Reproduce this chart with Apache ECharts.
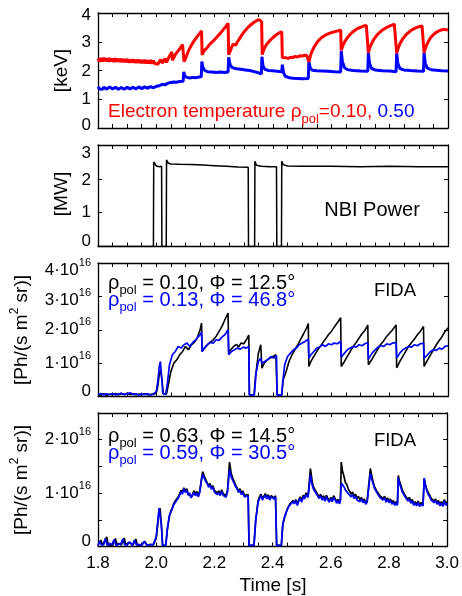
<!DOCTYPE html>
<html><head><meta charset="utf-8">
<script src="https://cdn.jsdelivr.net/npm/echarts@6/dist/echarts.min.js"></script>
<style>html,body{margin:0;padding:0;background:#fff}#c{width:462px;height:596px}</style>
</head><body><div id="c"></div>
<script>
// ---------- DATA (time [s], value) ----------
// Electron temperature [keV], rho_pol = 0.10 (red)
const teRed = [[1.800,2.42],[1.805,2.31],[1.810,2.43],[1.815,2.32],[1.820,2.44],[1.825,2.33],[1.830,2.42],[1.835,2.31],[1.840,2.43],[1.845,2.32],[1.850,2.41],[1.855,2.30],[1.860,2.42],[1.865,2.31],[1.870,2.40],[1.875,2.30],[1.880,2.41],[1.885,2.29],[1.890,2.39],[1.895,2.29],[1.900,2.40],[1.905,2.28],[1.910,2.38],[1.915,2.28],[1.920,2.39],[1.925,2.27],[1.930,2.37],[1.935,2.27],[1.940,2.38],[1.945,2.26],[1.950,2.36],[1.955,2.26],[1.960,2.37],[1.965,2.25],[1.970,2.35],[1.975,2.25],[1.980,2.36],[1.985,2.24],[1.990,2.34],[1.995,2.24],[2.000,2.30],
[2.005,2.22],[2.010,2.30],[2.015,2.38],[2.020,2.26],[2.025,2.33],[2.030,2.42],[2.035,2.28],[2.040,2.40],[2.045,2.50],[2.050,2.58],[2.053,2.65],[2.055,2.36],[2.060,2.45],[2.065,2.55],[2.070,2.62],[2.075,2.68],[2.080,2.75],[2.085,2.83],[2.090,2.90],[2.093,2.95],[2.095,2.31],[2.100,2.42],[2.105,2.55],[2.110,2.68],[2.115,2.78],[2.120,2.88],[2.125,2.96],[2.130,3.04],[2.135,3.10],[2.140,3.18],[2.145,3.24],[2.150,3.31],[2.155,3.38],[2.157,2.54],[2.160,2.62],[2.165,2.70],[2.170,2.76],[2.175,2.80],[2.180,2.88],[2.185,2.94],[2.190,2.98],[2.195,3.03],[2.200,3.08],[2.205,3.14],[2.210,3.19],[2.215,3.25],[2.220,3.30],[2.225,3.36],[2.230,3.43],[2.235,3.49],[2.240,3.55],[2.246,3.64],[2.248,2.55],[2.252,2.65],[2.258,2.80],[2.263,2.92],[2.268,2.96],[2.272,2.88],[2.278,3.00],[2.285,3.10],[2.292,3.22],[2.300,3.33],[2.308,3.43],[2.316,3.52],[2.325,3.60],[2.335,3.68],[2.345,3.74],[2.352,3.77],[2.358,3.74],[2.361,3.70],[2.363,2.55],[2.368,2.72],[2.375,2.86],[2.382,2.96],[2.390,3.05],[2.398,3.13],[2.406,3.20],[2.414,3.26],[2.422,3.31],[2.430,3.35],[2.432,2.45],[2.438,2.40],[2.445,2.44],[2.452,2.42],[2.460,2.46],[2.468,2.45],[2.476,2.49],[2.484,2.47],[2.492,2.51],[2.500,2.50],[2.508,2.53],[2.516,2.52],[2.521,2.55],[2.523,2.30],[2.528,2.50],[2.533,2.65],[2.540,2.80],[2.548,2.93],[2.556,3.04],[2.565,3.13],[2.575,3.20],[2.585,3.26],[2.595,3.30],[2.605,3.33],[2.615,3.36],[2.625,3.38],[2.632,3.41],[2.634,2.70],[2.640,2.88],[2.647,3.02],[2.655,3.14],[2.663,3.24],[2.672,3.33],[2.682,3.41],[2.692,3.47],[2.702,3.51],[2.712,3.55],[2.720,3.57],[2.725,3.58],[2.727,2.62],[2.733,2.82],[2.740,2.98],[2.748,3.12],[2.757,3.24],[2.767,3.34],[2.777,3.42],[2.788,3.49],[2.798,3.54],[2.808,3.58],[2.816,3.61],[2.822,3.62],[2.824,2.60],[2.830,2.80],[2.837,2.97],[2.845,3.10],[2.854,3.22],[2.863,3.31],[2.873,3.39],[2.883,3.45],[2.893,3.50],[2.903,3.53],[2.911,3.55],[2.916,3.56],[2.918,2.62],[2.924,2.82],[2.931,2.98],[2.939,3.12],[2.948,3.23],[2.957,3.31],[2.967,3.37],[2.977,3.41],[2.987,3.43],[2.995,3.42],[3.000,3.41]];
// Electron temperature [keV], rho_pol = 0.50 (blue)
const teBlue = [[1.800,1.43],[1.805,1.36],[1.810,1.42],[1.815,1.35],[1.820,1.42],[1.830,1.35],[1.840,1.43],[1.850,1.36],[1.860,1.42],[1.870,1.35],[1.880,1.41],[1.890,1.35],[1.900,1.42],[1.910,1.36],[1.920,1.42],[1.930,1.36],[1.940,1.43],[1.950,1.37],[1.960,1.43],[1.970,1.38],[1.980,1.44],[1.990,1.40],[2.000,1.45],[2.010,1.47],[2.020,1.52],[2.030,1.50],[2.040,1.56],[2.050,1.58],[2.060,1.60],[2.070,1.59],[2.080,1.62],[2.092,1.63],[2.094,1.95],[2.098,1.80],[2.105,1.76],[2.115,1.74],[2.125,1.76],[2.135,1.75],[2.145,1.77],[2.154,1.78],[2.156,2.31],[2.160,2.10],[2.166,2.00],[2.175,1.96],[2.190,1.95],[2.205,1.93],[2.220,1.95],[2.235,1.93],[2.246,1.95],[2.248,2.46],[2.253,2.20],[2.260,2.10],[2.275,2.06],[2.290,2.04],[2.305,2.02],[2.320,2.00],[2.335,1.96],[2.350,1.92],[2.360,1.88],[2.362,2.48],[2.366,2.15],[2.372,2.04],[2.385,2.00],[2.400,1.99],[2.415,1.97],[2.430,1.96],[2.432,2.20],[2.436,1.92],[2.442,1.80],[2.455,1.75],[2.470,1.73],[2.485,1.72],[2.500,1.71],[2.521,1.72],[2.523,2.30],[2.528,2.08],[2.535,2.01],[2.550,1.99],[2.570,1.98],[2.590,1.97],[2.610,1.96],[2.632,1.95],[2.634,2.68],[2.638,2.30],[2.645,2.10],[2.655,2.03],[2.675,2.00],[2.700,1.98],[2.725,1.97],[2.727,2.62],[2.731,2.25],[2.738,2.07],[2.750,2.02],[2.775,1.99],[2.800,1.98],[2.822,1.96],[2.824,2.60],[2.828,2.25],[2.835,2.07],[2.848,2.02],[2.870,2.00],[2.895,1.98],[2.916,1.97],[2.918,2.62],[2.922,2.25],[2.929,2.08],[2.942,2.03],[2.960,2.01],[2.980,1.99],[3.000,1.98]];
// NBI power [MW]
const nbi = [[1.800,0],[1.990,0],[1.991,2.50],[1.995,2.45],[2.000,2.38],[2.010,2.36],[2.018,2.37],[2.019,0],[2.034,0],[2.035,2.56],[2.040,2.47],[2.050,2.44],[2.080,2.43],[2.120,2.42],[2.160,2.41],[2.200,2.39],[2.240,2.37],[2.280,2.35],[2.315,2.34],[2.316,0],[2.337,0],[2.338,2.52],[2.343,2.40],[2.360,2.37],[2.390,2.36],[2.412,2.36],[2.413,0],[2.429,0],[2.430,2.52],[2.435,2.42],[2.450,2.38],[2.500,2.37],[2.600,2.37],[2.700,2.36],[2.800,2.37],[2.900,2.36],[3.000,2.36]];
// FIDA core [1e16 Ph/(s m^2 sr)] : rho 0.10 (black), rho 0.13 (blue)
const fidaCoreBlack = [[1.800,0.07],[1.810,0.04],[1.820,0.08],[1.830,0.04],[1.840,0.07],[1.850,0.05],[1.860,0.09],[1.870,0.05],[1.880,0.08],[1.890,0.06],[1.900,0.10],[1.910,0.06],[1.920,0.08],[1.930,0.05],[1.940,0.07],[1.950,0.06],[1.960,0.08],[1.970,0.05],[1.980,0.06],[1.990,0.07],[2.000,0.10],[2.005,0.30],[2.010,0.65],[2.015,0.80],[2.020,0.45],[2.024,0.08],[2.030,0.05],[2.035,0.08],[2.040,0.30],[2.050,0.75],[2.060,1.00],[2.070,1.10],[2.080,1.25],[2.090,1.35],[2.100,1.50],[2.110,1.40],[2.120,1.55],[2.130,1.62],[2.140,1.75],[2.150,2.00],[2.155,2.20],[2.157,1.35],[2.165,1.45],[2.175,1.55],[2.185,1.63],[2.195,1.70],[2.205,1.80],[2.215,1.95],[2.225,2.10],[2.235,2.30],[2.246,2.50],[2.248,1.30],[2.255,1.40],[2.265,1.50],[2.275,1.56],[2.282,1.48],[2.290,1.60],[2.300,1.58],[2.310,1.72],[2.317,1.84],[2.319,0.05],[2.335,0.05],[2.340,0.60],[2.350,1.30],[2.358,1.55],[2.362,0.85],[2.370,1.00],[2.380,1.10],[2.390,1.15],[2.400,1.20],[2.410,1.25],[2.414,0.05],[2.430,0.05],[2.435,0.50],[2.445,0.75],[2.455,1.05],[2.465,1.25],[2.475,1.40],[2.485,1.55],[2.495,1.72],[2.505,1.88],[2.515,2.05],[2.521,2.19],[2.523,0.90],[2.530,1.05],[2.540,1.20],[2.550,1.35],[2.560,1.48],[2.570,1.60],[2.580,1.72],[2.590,1.85],[2.600,1.95],[2.610,2.08],[2.620,2.20],[2.632,2.36],[2.634,0.90],[2.645,1.05],[2.655,1.20],[2.665,1.35],[2.675,1.50],[2.685,1.62],[2.695,1.75],[2.705,1.88],[2.715,1.98],[2.725,2.14],[2.727,0.95],[2.738,1.10],[2.748,1.25],[2.758,1.40],[2.768,1.55],[2.778,1.65],[2.788,1.78],[2.798,1.88],[2.808,1.98],[2.822,2.14],[2.824,0.86],[2.835,1.05],[2.845,1.20],[2.855,1.35],[2.865,1.50],[2.875,1.62],[2.885,1.72],[2.895,1.85],[2.905,1.95],[2.916,2.10],[2.918,0.90],[2.930,1.10],[2.940,1.25],[2.950,1.40],[2.960,1.55],[2.970,1.68],[2.980,1.80],[2.990,1.95],[3.000,2.06]];
const fidaCoreBlue = [[1.800,0.06],[1.810,0.09],[1.820,0.05],[1.830,0.08],[1.840,0.06],[1.850,0.09],[1.860,0.05],[1.870,0.07],[1.880,0.10],[1.890,0.06],[1.900,0.08],[1.910,0.11],[1.920,0.06],[1.930,0.08],[1.940,0.05],[1.950,0.07],[1.960,0.06],[1.970,0.08],[1.980,0.05],[1.990,0.07],[2.000,0.15],[2.005,0.45],[2.010,0.90],[2.014,1.05],[2.018,0.60],[2.022,0.10],[2.032,0.06],[2.038,0.40],[2.045,0.95],[2.055,1.25],[2.065,1.35],[2.075,1.50],[2.085,1.45],[2.095,1.55],[2.105,1.60],[2.115,1.50],[2.125,1.62],[2.135,1.70],[2.145,1.80],[2.155,1.92],[2.157,1.35],[2.165,1.45],[2.175,1.55],[2.185,1.62],[2.195,1.60],[2.205,1.70],[2.215,1.68],[2.225,1.78],[2.235,1.85],[2.246,2.00],[2.248,1.25],[2.258,1.35],[2.268,1.40],[2.278,1.45],[2.288,1.42],[2.298,1.48],[2.308,1.45],[2.317,1.50],[2.319,0.05],[2.336,0.05],[2.342,0.70],[2.350,1.05],[2.358,1.15],[2.362,1.00],[2.372,1.05],[2.382,1.10],[2.392,1.20],[2.402,1.15],[2.412,1.22],[2.414,0.05],[2.430,0.05],[2.433,0.40],[2.440,0.95],[2.450,1.20],[2.460,1.30],[2.470,1.40],[2.480,1.45],[2.490,1.55],[2.500,1.60],[2.510,1.65],[2.521,1.72],[2.523,1.15],[2.530,1.25],[2.540,1.35],[2.550,1.45],[2.560,1.48],[2.570,1.55],[2.580,1.50],[2.590,1.58],[2.600,1.55],[2.610,1.60],[2.620,1.58],[2.632,1.65],[2.634,1.18],[2.645,1.30],[2.655,1.40],[2.665,1.45],[2.675,1.50],[2.685,1.48],[2.695,1.55],[2.705,1.52],[2.715,1.58],[2.725,1.62],[2.727,1.12],[2.740,1.30],[2.750,1.40],[2.760,1.48],[2.770,1.52],[2.780,1.50],[2.790,1.58],[2.800,1.55],[2.810,1.60],[2.822,1.62],[2.824,1.15],[2.835,1.30],[2.845,1.40],[2.855,1.45],[2.865,1.50],[2.875,1.48],[2.885,1.55],[2.895,1.52],[2.905,1.58],[2.916,1.60],[2.918,1.15],[2.930,1.25],[2.940,1.35],[2.950,1.40],[2.960,1.38],[2.970,1.45],[2.980,1.42],[2.990,1.50],[3.000,1.52]];
// FIDA edge [1e16 Ph/(s m^2 sr)] : rho 0.63 (black), rho 0.59 (blue)
const fidaEdgeBlack = [[1.800,0.03],[1.810,0.12],[1.815,0.02],[1.820,0.05],[1.830,0.18],[1.835,0.03],[1.840,0.04],[1.850,0.02],[1.860,0.15],[1.865,0.02],[1.870,0.06],[1.880,0.03],[1.890,0.16],[1.895,0.04],[1.900,0.02],[1.910,0.07],[1.920,0.03],[1.930,0.14],[1.935,0.02],[1.940,0.05],[1.950,0.03],[1.960,0.10],[1.970,0.02],[1.980,0.04],[1.990,0.03],[2.000,0.15],[2.005,0.40],[2.010,0.68],[2.013,0.72],[2.018,0.40],[2.022,0.02],[2.033,0.02],[2.038,0.30],[2.045,0.55],[2.050,0.66],[2.055,0.72],[2.060,0.80],[2.065,0.85],[2.070,0.82],[2.075,0.92],[2.080,0.98],[2.085,1.05],[2.090,1.01],[2.095,1.10],[2.100,1.04],[2.105,1.08],[2.110,0.99],[2.115,1.02],[2.120,0.93],[2.125,0.98],[2.130,1.04],[2.135,0.99],[2.140,1.03],[2.145,0.96],[2.150,1.05],[2.155,1.25],[2.160,1.40],[2.165,1.32],[2.170,1.25],[2.175,1.22],[2.180,1.14],[2.185,1.18],[2.190,1.10],[2.195,1.14],[2.200,1.05],[2.205,1.08],[2.210,1.00],[2.215,1.04],[2.220,0.98],[2.225,1.06],[2.230,0.99],[2.235,1.02],[2.240,0.95],[2.245,1.05],[2.252,1.58],[2.258,1.36],[2.263,1.28],[2.268,1.22],[2.273,1.15],[2.278,1.12],[2.283,1.04],[2.288,1.08],[2.293,1.00],[2.298,1.04],[2.303,0.96],[2.308,0.99],[2.316,0.97],[2.319,0.02],[2.336,0.02],[2.342,0.50],[2.350,0.85],[2.355,0.93],[2.360,0.98],[2.365,0.90],[2.370,0.94],[2.375,0.99],[2.380,0.92],[2.385,0.97],[2.390,0.90],[2.395,0.95],[2.400,0.98],[2.405,0.91],[2.410,0.95],[2.414,0.02],[2.430,0.02],[2.435,0.40],[2.440,0.52],[2.445,0.60],[2.450,0.70],[2.455,0.75],[2.460,0.80],[2.465,0.77],[2.470,0.86],[2.475,0.82],[2.480,0.88],[2.485,0.80],[2.490,0.87],[2.495,0.93],[2.500,0.86],[2.505,0.96],[2.510,0.92],[2.515,1.00],[2.522,0.95],[2.530,1.46],[2.536,1.22],[2.540,1.12],[2.545,1.07],[2.550,1.02],[2.555,1.00],[2.560,0.93],[2.565,0.98],[2.570,0.90],[2.575,0.95],[2.580,0.88],[2.585,0.96],[2.590,0.90],[2.595,0.86],[2.600,0.92],[2.605,0.87],[2.610,0.95],[2.615,0.90],[2.620,0.84],[2.625,0.88],[2.630,0.83],[2.633,0.88],[2.636,1.58],[2.640,1.42],[2.645,1.32],[2.650,1.20],[2.655,1.16],[2.660,1.08],[2.665,1.06],[2.670,0.98],[2.675,1.02],[2.680,0.94],[2.685,0.98],[2.690,0.90],[2.695,0.94],[2.700,0.87],[2.705,0.92],[2.710,0.85],[2.715,0.89],[2.720,0.82],[2.725,0.86],[2.730,0.83],[2.736,1.46],[2.741,1.32],[2.745,1.22],[2.750,1.12],[2.755,1.07],[2.760,1.02],[2.765,1.00],[2.770,0.94],[2.775,0.97],[2.780,0.90],[2.785,0.94],[2.790,0.86],[2.795,0.91],[2.800,0.85],[2.805,0.89],[2.810,0.82],[2.815,0.86],[2.820,0.80],[2.825,0.84],[2.829,0.80],[2.832,1.33],[2.836,1.22],[2.840,1.16],[2.845,1.07],[2.850,1.01],[2.855,0.96],[2.860,0.93],[2.865,0.88],[2.870,0.92],[2.875,0.84],[2.880,0.88],[2.885,0.80],[2.890,0.84],[2.895,0.79],[2.900,0.85],[2.905,0.78],[2.910,0.82],[2.917,0.79],[2.921,1.27],[2.925,1.16],[2.930,1.07],[2.935,1.00],[2.940,0.96],[2.945,0.90],[2.950,0.93],[2.955,0.85],[2.960,0.89],[2.965,0.82],[2.970,0.86],[2.975,0.79],[2.980,0.84],[2.985,0.78],[2.990,0.88],[2.995,0.80],[3.000,0.84]];
const fidaEdgeBlue = [[1.800,0.02],[1.805,0.10],[1.812,0.03],[1.820,0.04],[1.825,0.15],[1.832,0.02],[1.840,0.06],[1.848,0.03],[1.855,0.13],[1.862,0.02],[1.870,0.05],[1.878,0.04],[1.885,0.14],[1.892,0.03],[1.900,0.03],[1.908,0.09],[1.918,0.02],[1.925,0.12],[1.932,0.03],[1.940,0.04],[1.950,0.02],[1.958,0.09],[1.968,0.03],[1.980,0.03],[1.990,0.04],[2.000,0.18],[2.005,0.45],[2.010,0.72],[2.013,0.75],[2.018,0.38],[2.022,0.02],[2.033,0.02],[2.038,0.32],[2.045,0.58],[2.050,0.64],[2.055,0.70],[2.060,0.78],[2.065,0.82],[2.070,0.80],[2.075,0.90],[2.080,0.95],[2.085,1.02],[2.090,0.98],[2.095,1.08],[2.100,1.01],[2.105,1.05],[2.110,0.96],[2.115,1.00],[2.120,0.91],[2.125,0.96],[2.130,1.01],[2.135,0.95],[2.140,1.00],[2.145,0.93],[2.150,1.02],[2.155,1.22],[2.160,1.35],[2.165,1.28],[2.170,1.22],[2.175,1.18],[2.180,1.11],[2.185,1.15],[2.190,1.07],[2.195,1.11],[2.200,1.02],[2.205,1.05],[2.210,0.97],[2.215,1.01],[2.220,0.95],[2.225,1.03],[2.230,0.96],[2.235,0.99],[2.240,0.92],[2.245,1.02],[2.252,1.44],[2.258,1.30],[2.263,1.24],[2.268,1.18],[2.273,1.12],[2.278,1.08],[2.283,1.01],[2.288,1.05],[2.293,0.97],[2.298,1.01],[2.303,0.93],[2.308,0.96],[2.316,0.95],[2.319,0.02],[2.336,0.02],[2.342,0.48],[2.350,0.82],[2.355,0.90],[2.360,0.95],[2.365,0.87],[2.370,0.92],[2.375,0.96],[2.380,0.89],[2.385,0.95],[2.390,0.87],[2.395,0.93],[2.400,0.96],[2.405,0.89],[2.410,0.93],[2.414,0.02],[2.430,0.02],[2.435,0.42],[2.440,0.54],[2.445,0.62],[2.450,0.68],[2.455,0.74],[2.460,0.78],[2.465,0.75],[2.470,0.84],[2.475,0.80],[2.480,0.86],[2.485,0.77],[2.490,0.85],[2.495,0.90],[2.500,0.83],[2.505,0.93],[2.510,0.89],[2.515,0.97],[2.522,0.92],[2.530,1.34],[2.536,1.15],[2.540,1.08],[2.545,1.03],[2.550,0.99],[2.555,0.97],[2.560,0.90],[2.565,0.95],[2.570,0.87],[2.575,0.92],[2.580,0.85],[2.585,0.93],[2.590,0.87],[2.595,0.83],[2.600,0.89],[2.605,0.84],[2.610,0.92],[2.615,0.87],[2.620,0.81],[2.625,0.86],[2.630,0.80],[2.633,0.86],[2.636,1.19],[2.640,1.16],[2.645,1.12],[2.650,1.06],[2.655,1.05],[2.660,0.99],[2.665,1.00],[2.670,0.93],[2.675,0.97],[2.680,0.90],[2.685,0.94],[2.690,0.87],[2.695,0.90],[2.700,0.84],[2.705,0.89],[2.710,0.82],[2.715,0.86],[2.720,0.79],[2.725,0.83],[2.730,0.80],[2.736,1.37],[2.741,1.26],[2.745,1.18],[2.750,1.09],[2.755,1.04],[2.760,0.99],[2.765,0.97],[2.770,0.91],[2.775,0.94],[2.780,0.87],[2.785,0.91],[2.790,0.83],[2.795,0.88],[2.800,0.82],[2.805,0.86],[2.810,0.79],[2.815,0.83],[2.820,0.77],[2.825,0.81],[2.829,0.77],[2.832,1.28],[2.836,1.18],[2.840,1.12],[2.845,1.03],[2.850,0.98],[2.855,0.93],[2.860,0.90],[2.865,0.85],[2.870,0.89],[2.875,0.81],[2.880,0.85],[2.885,0.77],[2.890,0.81],[2.895,0.76],[2.900,0.82],[2.905,0.75],[2.910,0.79],[2.917,0.76],[2.921,1.28],[2.925,1.14],[2.930,1.04],[2.935,0.97],[2.940,0.93],[2.945,0.87],[2.950,0.90],[2.955,0.82],[2.960,0.86],[2.965,0.79],[2.970,0.83],[2.975,0.76],[2.980,0.81],[2.985,0.75],[2.990,0.85],[2.995,0.77],[3.000,0.81]];
// axis ranges / ticks
const timeRange = [1.8, 3.0];
const timeTickStep = 0.05;
const timeLabelStep = 0.2;
const yRanges = [[0,4,1],[0,3,1],[0,4,1],[0,2.5,0.5]];
const yLabelValues = [[0,1,2,3,4],[0,1,2,3],[0,1,2,3,4],[0,1,2]];

// ---------- CHART ----------
const FONT = '"Liberation Sans", Arial, Helvetica, sans-serif';
const TICK_FS = 17;
const RED = '#ff0000', BLUE = '#0000ff', BLACK = '#000000';
const gridBoxes = [
  {left:98, width:350, top:13, height:115},
  {left:98, width:350, top:145, height:101.5},
  {left:98, width:350, top:263, height:133.5},
  {left:98, width:350, top:413, height:133.5}
];
// vertical nudge (px, + = down) of individual tick labels, as in the original figure
const labelNudge = [{4:2, 3:1, 2:1, 0:-3}, {3:8, 2:1, 0:-5}, {4:7, 3:4, 0:-5}, {0:-5}];
const lineSt = {color:'#000', width:1.3};
const isMult = (v, s) => Math.abs(v / s - Math.round(v / s)) < 1e-6;

function labelRich(d) {
  const r = {};
  const mk = (name, dd) => {
    r['m' + name] = {fontSize:TICK_FS, color:'#000', fontFamily:FONT, lineHeight:26,
      padding: dd >= 0 ? [2*dd,0,0,0] : [0,0,-2*dd,0]};
    r['s' + name] = {fontSize:11, color:'#000', fontFamily:FONT, lineHeight:11, verticalAlign:'top',
      padding:[Math.max(0, dd), 0, 0, 0]};
  };
  [-5,-3,0,1,2,4,7,8].forEach(v => mk(String(v).replace('-', 'n'), v));
  return r;
}
const RICH = labelRich();

const xAxes = [], yAxes = [];
gridBoxes.forEach((g, gi) => {
  ['bottom','top'].forEach(pos => {
    const show = (gi === 3 && pos === 'bottom');
    xAxes.push({type:'value', gridIndex:gi, position:pos, min:timeRange[0], max:timeRange[1], interval:timeTickStep,
      axisLine:{show:true, onZero:false, lineStyle:lineSt},
      axisTick:{show:true, inside:true, length:4, lineStyle:{color:'#000', width:1}},
      axisLabel:{show:show, margin:8, fontSize:TICK_FS, color:'#000', fontFamily:FONT, showMinLabel:true, showMaxLabel:true,
        formatter: v => isMult(v - timeRange[0], timeLabelStep) ? v.toFixed(1) : ''},
      splitLine:{show:false}});
  });
  const [mn, mx, step] = yRanges[gi];
  ['left','right'].forEach(pos => {
    const show = pos === 'left';
    const fmt = v => {
      const iv = Math.round(v);
      if (!isMult(v, 1) || yLabelValues[gi].indexOf(iv) < 0) return '';
      const d = labelNudge[gi][iv] || 0;
      const key = String(d).replace('-', 'n');
      if (gi < 2 || iv === 0) return '{m' + key + '|' + iv + '}';
      return '{m' + key + '|' + iv + '·10}{s' + key + '|16}';
    };
    yAxes.push({type:'value', gridIndex:gi, position:pos, min:mn, max:mx, interval:step,
      axisLine:{show:true, onZero:false, lineStyle:lineSt},
      axisTick:{show:true, inside:true, length:4, lineStyle:{color:'#000', width:1}},
      axisLabel:{show:show, margin:7, fontSize:TICK_FS, color:'#000', fontFamily:FONT, formatter:fmt, rich:RICH, showMinLabel:true, showMaxLabel:true},
      splitLine:{show:false}});
  });
});

function line(gi, data, color, width, z) {
  return {type:'line', xAxisIndex:gi*2, yAxisIndex:gi*2, data:data, showSymbol:false, symbol:'none',
    lineStyle:{color:color, width:width}, animation:false, z:z, silent:true};
}
const series = [
  line(0, teBlue, BLUE, 3, 2), line(0, teRed, RED, 3, 3),
  line(1, nbi, BLACK, 1.5, 2),
  line(2, fidaCoreBlack, BLACK, 1.6, 2), line(2, fidaCoreBlue, BLUE, 1.7, 3),
  line(3, fidaEdgeBlack, BLACK, 1.7, 2), line(3, fidaEdgeBlue, BLUE, 1.7, 3)
];

// rich-text helpers for annotations
const tok = (c, fs) => ({fill:c, fontSize:fs, fontFamily:FONT, lineHeight:30, verticalAlign:'middle'});
const sub = (c, fs) => ({fill:c, fontSize:fs, fontFamily:FONT, lineHeight:fs, verticalAlign:'bottom', padding:[0,0,1,0]});
const sup = (c, fs) => ({fill:c, fontSize:fs, fontFamily:FONT, lineHeight:fs, verticalAlign:'top', padding:[2,0,0,0]});
function T(x, y, text, rich, align, rot) {
  return {type:'text', x:x, y:y, rotation:rot || 0, z:100, silent:true,
    style:{text:text, rich:rich, align:align || 'left', verticalAlign:'middle', fill:'#000', fontSize:18, fontFamily:FONT}};
}
const richName = {k:tok(BLACK, 19), up:sup(BLACK, 12)};
const richTe = {r:tok(RED, 19), rs:sub(RED, 13), b:tok(BLUE, 19)};
const richRho = {k:tok(BLACK, 20), ks:sub(BLACK, 13), b:tok(BLUE, 20), bs:sub(BLUE, 13)};
const richBig = {k:tok(BLACK, 20)};
const richFida = {k:tok(BLACK, 18.5)};
const graphics = [
  T(61.5, 70.5, '{k|[keV]}', richName, 'center', Math.PI/2),
  T(61.5, 194, '{k|[MW]}', richName, 'center', Math.PI/2),
  T(21.5, 330, '{k|[Ph/(s m}{up|2}{k| sr)]}', richName, 'center', Math.PI/2),
  T(21.5, 480, '{k|[Ph/(s m}{up|2}{k| sr)]}', richName, 'center', Math.PI/2),
  T(273, 586, '{k|Time [s]}', richName, 'center'),
  T(108, 111.5, '{r|Electron temperature ρ}{rs|pol}{r|=0.10, }{b|0.50}', richTe, 'left'),
  T(372, 210, '{k|NBI Power}', richBig, 'center'),
  T(108, 283.3, '{k|ρ}{ks|pol}{k| = 0.10, Φ = 12.5°}', richRho, 'left'),
  T(108, 300.3, '{b|ρ}{bs|pol}{b| = 0.13, Φ = 46.8°}', richRho, 'left'),
  T(395, 291.3, '{k|FIDA}', richFida, 'center'),
  T(108, 436, '{k|ρ}{ks|pol}{k| = 0.63, Φ = 14.5°}', richRho, 'left'),
  T(108, 453, '{b|ρ}{bs|pol}{b| = 0.59, Φ = 30.5°}', richRho, 'left'),
  T(395, 441.3, '{k|FIDA}', richFida, 'center')
];

const chart = echarts.init(document.getElementById('c'), null, {renderer:'canvas'});
chart.setOption({
  backgroundColor:'#ffffff',
  animation:false,
  grid: gridBoxes.map(g => Object.assign({containLabel:false}, g)),
  xAxis: xAxes,
  yAxis: yAxes,
  series: series,
  graphic: graphics
});
</script></body></html>
